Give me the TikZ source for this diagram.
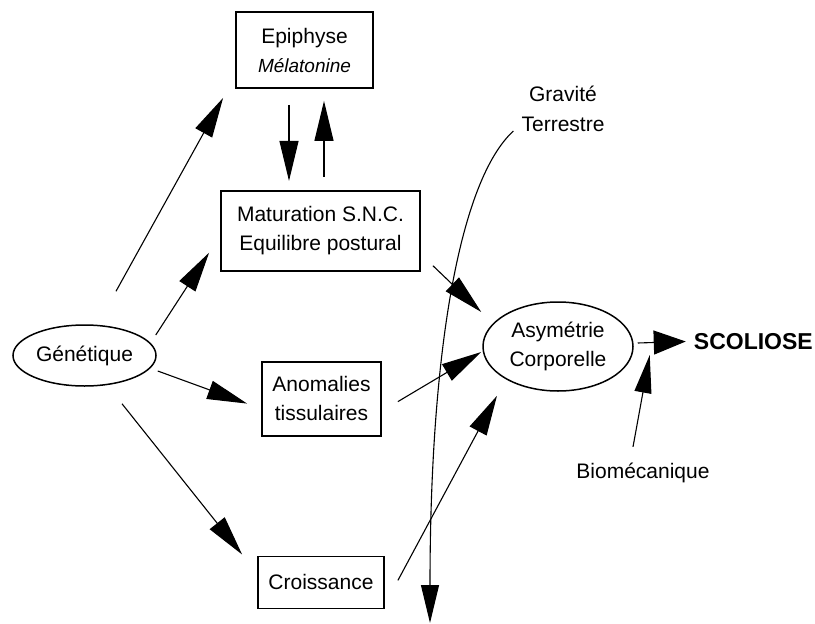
\documentclass[tikz,border=0pt]{standalone}
\usepackage{fontspec}
\setmainfont{Liberation Sans}
\usetikzlibrary{arrows.meta,shapes.geometric,positioning,calc}

\tikzset{
  boite/.style={draw, line width=1.8pt, inner sep=0pt, align=center, font=\fontsize{21}{29}\selectfont},
  ovale/.style={draw, ellipse, line width=1.5pt, inner sep=0pt, align=center, font=\fontsize{21}{29}\selectfont},
  texte/.style={inner sep=0pt, align=center, font=\fontsize{21}{30}\selectfont},
  fleche/.style={-{Triangle[length=40pt,width=19pt]}, line width=1.1pt},
}

\begin{document}
\begin{tikzpicture}[x=1pt, y=-1pt]
        \useasboundingbox (0,0) rectangle (815,624);
        % boites et ellipses
        \node[boite, minimum width=137pt, minimum height=76pt] (epi) at (304.5,50)
            {Epiphyse\\ {\fontsize{19}{29}\selectfont\itshape Mélatonine}};
        \node[boite, minimum width=199pt, minimum height=80pt, below=101pt of epi, xshift=16pt] (mat)
            {Maturation S.N.C.\\ Equilibre postural};
        \node[boite, minimum width=119pt, minimum height=74pt, below=89pt of mat, xshift=1pt] (ano)
            {Anomalies\\ tissulaires};
        \node[boite, minimum width=126pt, minimum height=52pt, below=119pt of ano, xshift=-0.5pt] (cro)
            {Croissance};
        \node[ovale, minimum width=143pt, minimum height=61pt] (gen) at (84.5,355.5) {Génétique};
        \node[ovale, minimum width=150pt, minimum height=89pt] (asy) at (558,346.5)
            {Asymétrie\\ Corporelle};
        \node[texte, font=\fontsize{23}{29}\selectfont\bfseries, right=60pt of asy, yshift=5pt] (sco) {SCOLIOSE};
        \node[texte] (bio) at (643,473) {Biomécanique};
        \node[texte] (grav) at (563,109) {Gravité\\ Terrestre};
        \coordinate (sol) at (430,623);
        % fleches
        \draw[fleche] ($(gen.north)+(31.5,-33)$) -- ($(epi.south west)+(-12,9)$);
        \draw[fleche] ($(gen.east)+(-1,-20.5)$) -- ($(mat.south west)+(-11,-19)$);
        \draw[fleche] ($(gen.east)+(1,15.5)$) -- ($(ano.west)+(-14,5)$);
        \draw[fleche] ($(gen.south)+(37.5,17)$) -- ($(cro.north west)+(-15,-1)$);
        \draw[fleche] ($(epi.south)+(-15.5,16)$) -- ($(mat.north)+(-31.5,-9)$);
        \draw[fleche] ($(mat.north)+(3.5,-13)$) -- ($(epi.south)+(19.5,12)$);
        \draw[fleche] ($(mat.south east)+(12,-6)$) -- ($(asy.west)+(-1,-34.5)$);
        \draw[fleche] ($(ano.east)+(16,3)$) -- ($(asy.west)+(-1,5.5)$);
        \draw[fleche] ($(cro.east)+(13,-2)$) -- ($(asy.south)+(-61,4)$);
        \draw[fleche, -{Triangle[length=32pt,width=24pt]}] ($(asy.east)+(4,-3.5)$) -- ($(sco.west)+(-8,0)$);
        \draw[fleche, -{Triangle[length=38pt,width=17pt]}] ($(bio.north)+(-10,-16)$) -- ($(asy.east)+(16,8.5)$);
        \draw[fleche, -{Triangle[length=38pt,width=18pt]}] ($(grav.south west)+(-8,-1)$)
            .. controls (460,180) and (430,350) .. (sol);
\end{tikzpicture}
\end{document}
